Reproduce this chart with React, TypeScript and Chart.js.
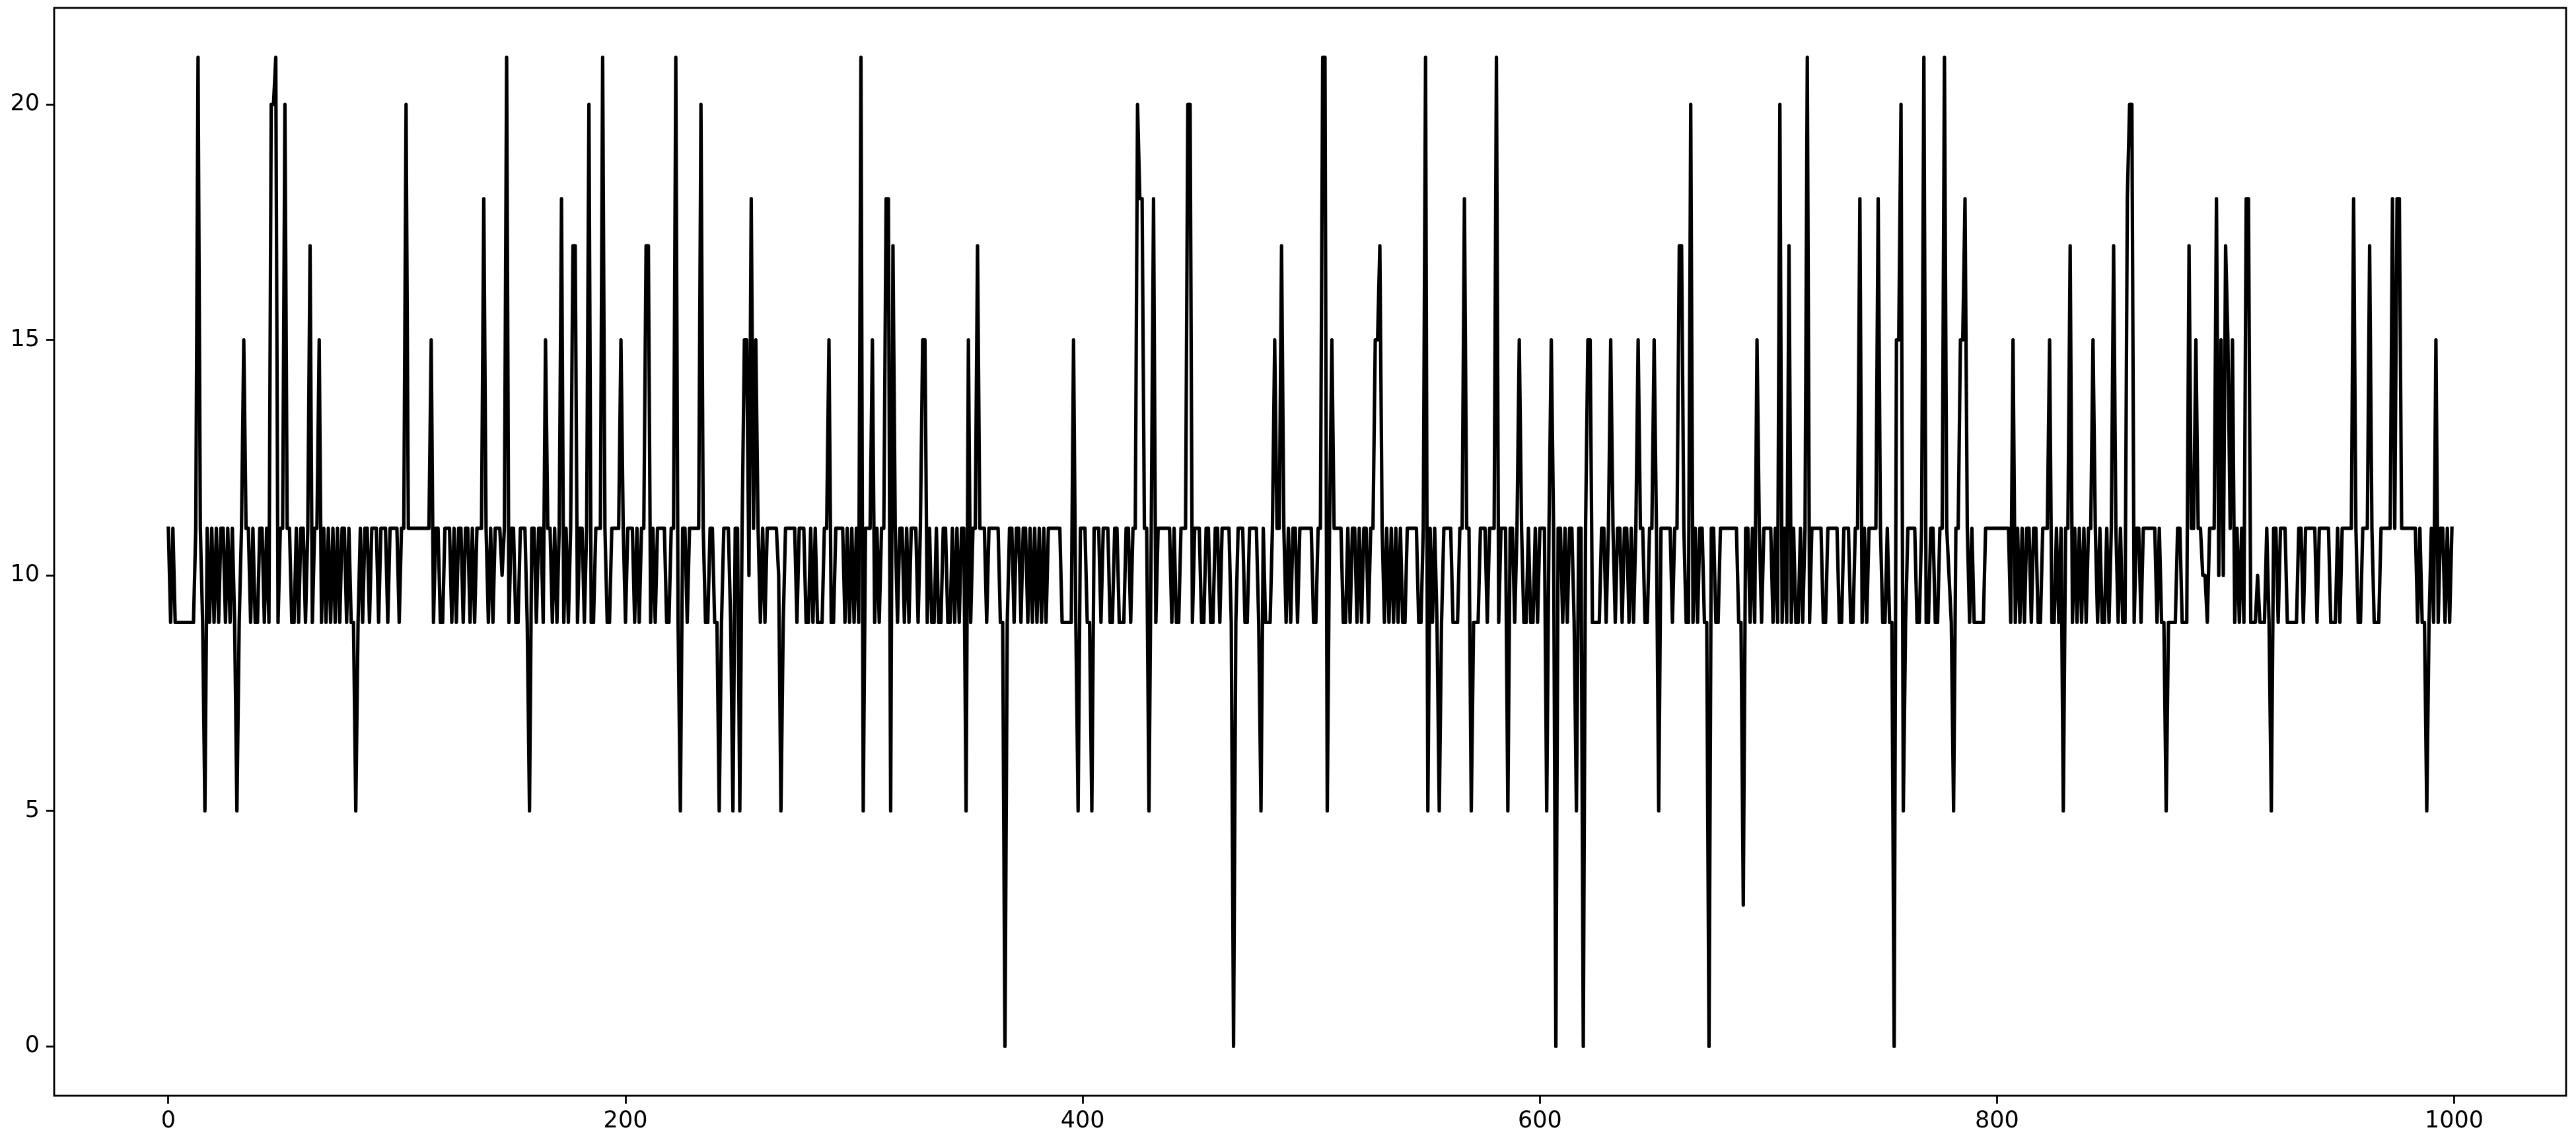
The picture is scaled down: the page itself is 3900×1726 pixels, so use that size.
import React, { useEffect, useRef } from "react";
import { Chart, registerables } from "chart.js";

Chart.register(...registerables);

// series values, index 0..999 (in blocks of 100)
const values000 = [
  11, 9, 11, 9, 9, 9, 9, 9, 9, 9,
  9, 9, 11, 21, 11, 9, 5, 11, 9, 11,
  9, 11, 9, 11, 11, 9, 11, 9, 11, 9,
  5, 9, 11, 15, 11, 11, 9, 11, 9, 9,
  11, 11, 9, 11, 9, 20, 20, 21, 9, 11,
  11, 20, 11, 11, 9, 9, 11, 9, 11, 11,
  9, 11, 17, 9, 11, 11, 15, 9, 11, 9,
  11, 9, 11, 9, 11, 9, 11, 11, 9, 11,
  9, 9, 5, 9, 11, 9, 11, 11, 9, 11,
  11, 11, 9, 11, 11, 11, 9, 11, 11, 11,
];
const values100 = [
  11, 9, 11, 11, 20, 11, 11, 11, 11, 11,
  11, 11, 11, 11, 11, 15, 9, 11, 11, 9,
  9, 11, 11, 11, 9, 11, 9, 11, 11, 9,
  11, 11, 9, 11, 9, 11, 11, 11, 18, 11,
  9, 11, 9, 11, 11, 11, 10, 11, 21, 9,
  11, 11, 9, 9, 11, 11, 11, 9, 5, 11,
  11, 9, 11, 11, 9, 15, 11, 11, 9, 11,
  9, 11, 18, 9, 11, 9, 11, 17, 17, 9,
  11, 11, 9, 11, 20, 9, 9, 11, 11, 11,
  21, 11, 9, 9, 11, 11, 11, 11, 15, 11,
];
const values200 = [
  9, 11, 11, 11, 9, 11, 9, 11, 11, 17,
  17, 9, 11, 9, 11, 11, 11, 11, 9, 9,
  11, 11, 21, 9, 5, 11, 11, 9, 11, 11,
  11, 11, 11, 20, 11, 9, 9, 11, 11, 9,
  9, 5, 9, 11, 11, 11, 9, 5, 11, 11,
  5, 11, 15, 15, 10, 18, 11, 15, 11, 9,
  11, 9, 11, 11, 11, 11, 11, 10, 5, 9,
  11, 11, 11, 11, 11, 9, 11, 11, 11, 9,
  9, 11, 9, 11, 9, 9, 9, 11, 11, 15,
  9, 9, 11, 11, 11, 11, 9, 11, 9, 11,
];
const values300 = [
  9, 11, 9, 21, 5, 11, 11, 11, 15, 9,
  11, 9, 11, 11, 18, 18, 5, 17, 11, 9,
  11, 11, 9, 11, 9, 11, 11, 11, 9, 11,
  15, 15, 9, 11, 9, 9, 11, 9, 9, 11,
  11, 9, 9, 11, 9, 11, 9, 11, 11, 5,
  15, 9, 11, 11, 17, 11, 11, 11, 9, 11,
  11, 11, 11, 11, 9, 9, 0, 9, 11, 11,
  9, 11, 11, 9, 11, 11, 9, 11, 9, 11,
  9, 11, 9, 11, 9, 11, 11, 11, 11, 11,
  11, 9, 9, 9, 9, 9, 15, 9, 5, 11,
];
const values400 = [
  11, 11, 9, 9, 5, 11, 11, 11, 9, 11,
  11, 11, 9, 9, 11, 11, 9, 9, 9, 11,
  11, 9, 11, 11, 20, 18, 18, 11, 11, 5,
  11, 18, 9, 11, 11, 11, 11, 11, 11, 9,
  11, 9, 9, 11, 11, 11, 20, 20, 9, 11,
  11, 11, 9, 9, 11, 11, 9, 9, 11, 11,
  9, 11, 11, 11, 11, 9, 0, 9, 11, 11,
  11, 9, 9, 11, 11, 11, 11, 9, 5, 11,
  9, 9, 9, 11, 15, 11, 11, 17, 11, 9,
  11, 9, 11, 11, 9, 11, 11, 11, 11, 11,
];
const values500 = [
  11, 9, 9, 11, 11, 21, 21, 5, 11, 15,
  11, 11, 11, 11, 9, 9, 11, 9, 11, 11,
  9, 11, 9, 11, 11, 9, 11, 11, 15, 15,
  17, 11, 9, 11, 9, 11, 9, 11, 9, 11,
  9, 9, 11, 11, 11, 11, 11, 9, 9, 11,
  21, 5, 11, 9, 11, 9, 5, 9, 11, 11,
  11, 11, 9, 9, 9, 11, 11, 18, 11, 11,
  5, 9, 9, 9, 11, 11, 11, 9, 11, 11,
  11, 21, 9, 11, 11, 11, 5, 11, 11, 9,
  11, 15, 11, 9, 9, 11, 9, 9, 11, 9,
];
const values600 = [
  11, 11, 11, 5, 11, 15, 11, 0, 11, 11,
  9, 11, 9, 11, 11, 9, 5, 11, 11, 0,
  11, 15, 15, 9, 9, 9, 9, 11, 11, 9,
  11, 15, 11, 9, 11, 11, 9, 11, 11, 9,
  11, 9, 11, 15, 11, 11, 9, 9, 11, 11,
  15, 11, 5, 11, 11, 11, 11, 11, 9, 11,
  11, 17, 17, 11, 9, 9, 20, 9, 11, 9,
  11, 11, 9, 9, 0, 11, 11, 9, 9, 11,
  11, 11, 11, 11, 11, 11, 11, 9, 9, 3,
  11, 11, 9, 11, 9, 15, 11, 9, 11, 11,
];
const values700 = [
  11, 11, 9, 11, 9, 20, 9, 11, 9, 17,
  9, 11, 9, 9, 11, 9, 11, 21, 9, 11,
  11, 11, 11, 11, 9, 9, 11, 11, 11, 11,
  11, 9, 9, 11, 11, 11, 9, 9, 11, 11,
  18, 9, 11, 9, 11, 11, 11, 11, 18, 11,
  9, 9, 11, 9, 9, 0, 15, 15, 20, 5,
  9, 11, 11, 11, 11, 9, 9, 11, 21, 9,
  9, 11, 11, 9, 9, 11, 11, 21, 11, 10,
  9, 5, 11, 11, 15, 15, 18, 11, 9, 11,
  9, 9, 9, 9, 9, 11, 11, 11, 11, 11,
];
const values800 = [
  11, 11, 11, 11, 11, 11, 9, 15, 9, 11,
  9, 11, 9, 11, 11, 9, 11, 11, 9, 9,
  11, 11, 11, 15, 9, 9, 11, 9, 11, 5,
  11, 11, 17, 9, 11, 9, 11, 9, 11, 9,
  11, 11, 15, 11, 9, 11, 9, 9, 11, 9,
  11, 17, 11, 9, 11, 9, 9, 18, 20, 20,
  9, 11, 11, 9, 11, 11, 11, 11, 11, 11,
  9, 11, 9, 9, 5, 9, 9, 9, 9, 11,
  11, 9, 9, 9, 17, 11, 11, 15, 11, 11,
  10, 10, 9, 11, 11, 11, 18, 10, 15, 10,
];
const values900 = [
  17, 15, 11, 15, 9, 11, 9, 11, 9, 18,
  18, 9, 9, 9, 10, 9, 9, 9, 11, 9,
  5, 11, 11, 9, 11, 11, 11, 9, 9, 9,
  9, 9, 11, 11, 9, 11, 11, 11, 11, 11,
  9, 11, 11, 11, 11, 11, 9, 9, 9, 11,
  9, 11, 11, 11, 11, 11, 18, 11, 9, 9,
  11, 11, 11, 17, 11, 9, 9, 9, 11, 11,
  11, 11, 11, 18, 11, 18, 18, 11, 11, 11,
  11, 11, 11, 11, 9, 11, 9, 9, 5, 9,
  11, 9, 15, 9, 11, 11, 9, 11, 9, 11,
];

const xTickValues = [0, 200, 400, 600, 800, 1000];
const yTickValues = [0, 5, 10, 15, 20];

export default function App() {
  const ref = useRef<HTMLCanvasElement | null>(null);

  useEffect(() => {
    document.body.style.margin = "0";
    const values = [
      ...values000, ...values100, ...values200, ...values300, ...values400,
      ...values500, ...values600, ...values700, ...values800, ...values900,
    ];
    const points = values.map((v, i) => ({ x: i, y: v }));

    const frame = {
      id: "frame",
      afterDraw(chart: any) {
        const { ctx, chartArea: a } = chart;
        ctx.save();
        ctx.strokeStyle = "#000";
        ctx.lineWidth = 2.8;
        ctx.strokeRect(a.left, a.top, a.right - a.left, a.bottom - a.top);
        ctx.restore();
      },
    };

    const tickFont = { family: "DejaVu Sans", size: 35 };

    const chart = new Chart(ref.current as HTMLCanvasElement, {
      type: "line",
      data: {
        datasets: [
          {
            data: points,
            borderColor: "#000",
            borderWidth: 5.2,
            pointRadius: 0,
            tension: 0,
            borderJoinStyle: "round",
            borderCapStyle: "square",
            fill: false,
          },
        ],
      },
      options: {
        animation: false,
        responsive: false,
        maintainAspectRatio: false,
        layout: { padding: { left: 0, right: 15, top: 12, bottom: 0 } },
        plugins: { legend: { display: false }, tooltip: { enabled: false } },
        scales: {
          x: {
            type: "linear",
            min: -49.95,
            max: 1048.95,
            afterBuildTicks: (s: any) => {
              s.ticks = xTickValues.map((v) => ({ value: v }));
            },
            afterFit: (s: any) => {
              s.height = 67;
              s.paddingLeft = 0;
              s.paddingRight = 0;
            },
            grid: {
              display: true,
              drawOnChartArea: false,
              drawTicks: true,
              tickLength: 12,
              tickWidth: 2.8,
              tickColor: "#000",
            },
            border: { display: false },
            ticks: {
              color: "#000",
              font: tickFont,
              padding: 6,
              maxRotation: 0,
              autoSkip: false,
              callback: (v: any) => String(v),
            },
          },
          y: {
            type: "linear",
            min: -1.05,
            max: 22.05,
            afterBuildTicks: (s: any) => {
              s.ticks = yTickValues.map((v) => ({ value: v }));
            },
            afterFit: (s: any) => {
              s.width = 82;
              s.paddingTop = 0;
              s.paddingBottom = 0;
            },
            grid: {
              display: true,
              drawOnChartArea: false,
              drawTicks: true,
              tickLength: 12,
              tickWidth: 2.8,
              tickColor: "#000",
            },
            border: { display: false },
            ticks: {
              color: "#000",
              font: tickFont,
              padding: 10,
              autoSkip: false,
              callback: (v: any) => String(v),
            },
          },
        },
      },
      plugins: [frame],
    } as any);

    return () => chart.destroy();
  }, []);

  return (
    <canvas
      ref={ref}
      width={3900}
      height={1726}
      style={{ display: "block", width: "3900px", height: "1726px" }}
    />
  );
}
